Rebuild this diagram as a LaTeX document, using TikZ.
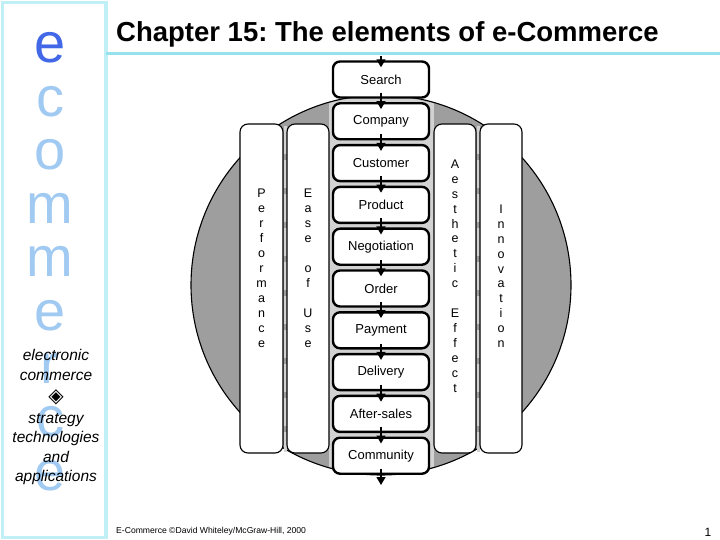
\documentclass[tikz,border=0pt]{standalone}
\usepackage{fontspec}
\setmainfont{Liberation Sans}
\newfontfamily\symbfont{DejaVu Sans}
\usetikzlibrary{arrows.meta}
\frenchspacing

\definecolor{railcyan}{RGB}{192,240,246}
\definecolor{rulecyan}{RGB}{150,226,236}
\definecolor{ebright}{RGB}{66,104,232}
\definecolor{efaint}{RGB}{160,202,242}
\definecolor{discgray}{RGB}{158,158,158}
\definecolor{bandgray}{RGB}{210,210,210}

\tikzset{
  stage/.style={draw, line width=2.4pt, rounded corners=7pt, fill=white,
    minimum width=96pt, minimum height=36pt, inner sep=0pt,
    font=\fontsize{13}{15}\selectfont},
  pillar/.style={draw, line width=1.1pt, rounded corners=8pt, fill=white},
  spell/.style={align=center, inner sep=0pt, anchor=north,
    font=\fontsize{12.5}{14.93}\selectfont},
  flow/.style={-{Triangle[length=8pt,width=9pt]}, line width=1.4pt},
  bigletter/.style={anchor=base, inner sep=0pt, font=\fontsize{56}{56}\selectfont},
  tagline/.style={anchor=base, inner sep=0pt, font=\fontsize{15.5}{18}\selectfont\itshape},
  seam/.style={bandgray, line width=3pt, dash pattern=on 28pt off 6pt},
}

\begin{document}
\begin{tikzpicture}[x=1pt,y=-1pt]
    \useasboundingbox (0,0) rectangle (720,540);
    \fill[white] (0,0) rectangle (720,540);

    % side rail and title rule
    \draw[railcyan, line width=3.5pt] (2.5,2.5) rectangle (106,537.5);
    \draw[rulecyan, line width=2.5pt] (106,53.5) -- (720,53.5);

    \node[bigletter, text=ebright] (big0) at (50,63) {e};
    \foreach \ch [count=\k from 1] in {c,o,m,m,e,r,c,e}
        \node[bigletter, text=efaint] (big\k) at (50,63+53.4*\k) {\ch};

    \foreach \txt/\y [count=\k] in {electronic/360, commerce/380, strategy/423,
                                    technologies/442, and/462, applications/481}
        \node[tagline] (tag\k) at (56,\y) {\txt};
    \node[anchor=center, inner sep=0pt, font=\symbfont\fontsize{20}{20}\selectfont] (mark) at (56,397) {◈};

    \node[anchor=base west, inner sep=0pt, font=\fontsize{27.5}{30}\selectfont\bfseries] (title) at (116,42)
        {Chapter 15: The elements of e-Commerce};
    \node[anchor=base west, inner sep=0pt, font=\fontsize{8.6}{10}\selectfont] (credit) at (116,533)
        {E-Commerce ©David Whiteley/McGraw-Hill, 2000};
    \node[anchor=base, inner sep=0pt, font=\fontsize{12}{14}\selectfont] (page) at (708,536) {1};

    % disc behind the pillars
    \draw[fill=discgray, line width=1.1pt] (381,285) circle [radius=190];
    \begin{scope}
        \clip (381,285) circle [radius=189];
        \fill[bandgray] (329,80) rectangle (434,490);
    \end{scope}
    \foreach \x in {285,331,431.5,478}
        \draw[seam] (\x,126) -- (\x,452);

    \draw[pillar] (240,124) rectangle (283,453);
    \draw[pillar] (287,124) rectangle (329,453);
    \draw[pillar] (434,124) rectangle (476,453);
    \draw[pillar] (480,124) rectangle (522,453);

    \node[spell] (perf) at (261.5,189) {P\\e\\r\\f\\o\\r\\m\\a\\n\\c\\e};
    \node[spell] (ease) at (308,189) {E\\a\\s\\e\\[14.93pt]o\\f\\[14.93pt]U\\s\\e};
    \node[spell] (aesth) at (455,159.5) {A\\e\\s\\t\\h\\e\\t\\i\\c\\[14.93pt]E\\f\\f\\e\\c\\t};
    \node[spell] (innov) at (501,204.5) {I\\n\\n\\o\\v\\a\\t\\i\\o\\n};

    % the stages
    \foreach \name/\label [count=\k from 0] in {search/Search, company/Company,
            customer/Customer, product/Product, negotiation/Negotiation, order/Order,
            payment/Payment, delivery/Delivery, aftersales/After-sales, community/Community}
        \node[stage] (\name) at (381,79.5+41.8*\k) {\label};

    \coordinate (entry) at (381,56);
    \coordinate (exit) at (381,485);
    \draw[flow] (entry) -- ([yshift=-7pt]search.north);
    \foreach \a/\b in {search/company, company/customer, customer/product,
            product/negotiation, negotiation/order, order/payment, payment/delivery,
            delivery/aftersales, aftersales/community}
        \draw[flow] ([yshift=6pt]\a.south) -- ([yshift=-7pt]\b.north);
    \draw[flow] ([yshift=6pt]community.south) -- (exit);
\end{tikzpicture}
\end{document}
